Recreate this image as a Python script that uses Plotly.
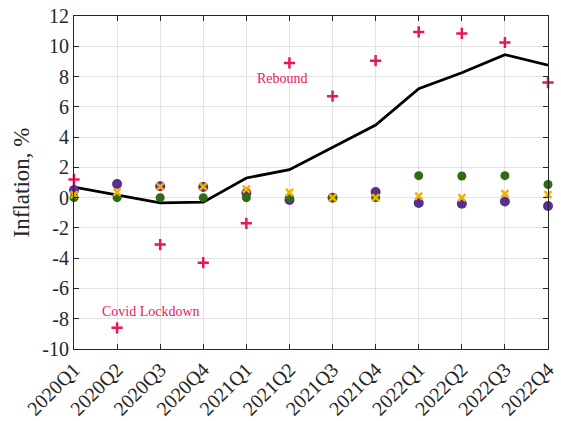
import plotly.graph_objects as go

quarters = ["2020Q1", "2020Q2", "2020Q3", "2020Q4",
            "2021Q1", "2021Q2", "2021Q3", "2021Q4",
            "2022Q1", "2022Q2", "2022Q3", "2022Q4"]

# headline inflation (line)
headline = [0.7, 0.2, -0.35, -0.3, 1.3, 1.85, 3.3, 4.8, 7.2, 8.25, 9.45, 8.75]
# component contributions (markers)
comp_purple = [0.5, 0.9, 0.75, 0.7, 0.3, -0.15, 0.0, 0.37, -0.35, -0.4, -0.25, -0.55]
comp_green = [0.0, 0.0, 0.0, 0.0, 0.0, 0.0, 0.0, 0.0, 1.45, 1.43, 1.45, 0.87]
comp_yellow = [0.2, 0.37, 0.72, 0.72, 0.57, 0.35, 0.0, 0.0, 0.1, 0.0, 0.26, 0.2]
comp_red = [1.2, -8.6, -3.1, -4.3, -1.7, 8.9, 6.7, 9.05, 10.95, 10.85, 10.25, 7.6]

y_ticks = list(range(-10, 13, 2))
y_ticktext = [str(v) for v in y_ticks]

x_idx = list(range(len(quarters)))
FONT = "Liberation Serif"

fig = go.Figure()
fig.add_trace(go.Scatter(x=x_idx, y=headline, mode="lines",
                         line=dict(color="black", width=2.8), cliponaxis=False))
fig.add_trace(go.Scatter(x=x_idx, y=comp_purple, mode="markers",
                         marker=dict(symbol="circle", size=10, color="#5a2d91"),
                         cliponaxis=False))
fig.add_trace(go.Scatter(x=x_idx, y=comp_green, mode="markers",
                         marker=dict(symbol="circle", size=9, color="#2f6a14"),
                         cliponaxis=False))
fig.add_trace(go.Scatter(x=x_idx, y=comp_yellow, mode="markers",
                         marker=dict(symbol="x-thin", size=7, color="#f2b100",
                                     line=dict(width=2.5, color="#f2b100")),
                         cliponaxis=False))
fig.add_trace(go.Scatter(x=x_idx, y=comp_red, mode="markers",
                         marker=dict(symbol="cross-thin", size=8, color="#e8175d",
                                     line=dict(width=2.5, color="#e8175d")),
                         cliponaxis=False))

fig.add_annotation(x=4.85, y=7.9, text="Rebound", showarrow=False,
                   font=dict(family=FONT, size=14, color="#e8175d"))
fig.add_annotation(x=1.78, y=-7.5, text="Covid Lockdown", showarrow=False,
                   font=dict(family=FONT, size=14, color="#e8175d"))

axis_common = dict(showline=True, linecolor="#262626", linewidth=1, mirror="ticks",
                   ticks="inside", ticklen=5, tickcolor="#262626",
                   showgrid=True, gridcolor="#e3e3e3", gridwidth=1, zeroline=False,
                   automargin=False,
                   tickfont=dict(family=FONT, size=20, color="#262626"))

fig.update_xaxes(range=[0, 11], tickvals=x_idx, ticktext=quarters,
                 tickangle=-45, **axis_common)
fig.update_yaxes(range=[-10, 12], tickvals=y_ticks, ticktext=y_ticktext,
                 title=dict(text="Inflation, %", font=dict(family=FONT, size=23,
                                                             color="#262626"),
                            standoff=6),
                 **axis_common)

fig.update_layout(width=561, height=421, showlegend=False,
                  plot_bgcolor="white", paper_bgcolor="white",
                  margin=dict(l=74, r=13, t=16, b=72))

fig.write_html("out.html")
